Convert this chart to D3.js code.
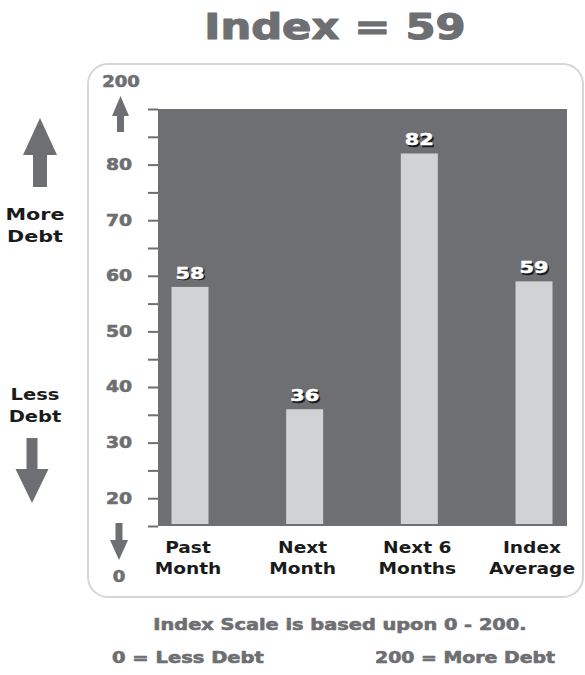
<!DOCTYPE html>
<html>
<head>
<meta charset="utf-8">
<script src="https://cdn.jsdelivr.net/npm/d3@7"></script>
<style>
  html, body { margin: 0; padding: 0; background: #ffffff; }
  svg { display: block; }
  text { font-family: "DejaVu Sans", "Liberation Sans", sans-serif; font-weight: bold; }
</style>
</head>
<body>
<svg id="chart" width="585" height="675"></svg>
<script>
// Debt index readings
const categories = ["Past Month", "Next Month", "Next 6 Months", "Index Average"];
const categoryLines = [["Past", "Month"], ["Next", "Month"], ["Next 6", "Months"], ["Index", "Average"]];
const values = [58, 36, 82, 59];

// Axis: labelled ticks every 10, minor ticks every 5, open ends at 0 and 200
const yDomain = [15, 90];
const majorTicks = [20, 30, 40, 50, 60, 70, 80];
const minorTicks = [15, 25, 35, 45, 55, 65, 75, 85, 90];
const topEndLabel = "200";
const bottomEndLabel = "0";

const titleText = "Index = 59";
const scaleNote = "Index Scale is based upon 0 - 200.";
const lowLegend = "0 = Less Debt";
const highLegend = "200 = More Debt";
const moreLabel = ["More", "Debt"];
const lessLabel = ["Less", "Debt"];

const GRAY = "#6e6f72";
const BAR = "#d1d2d4";
const FRAME = "#d6d6d6";
const INK = "#1b1b1b";

const svg = d3.select("#chart");

const plot = { left: 158, right: 567, top: 109, bottom: 526 };

const y = d3.scaleLinear().domain(yDomain).range([plot.bottom, plot.top]);
const x = d3.scalePoint().domain(categories).range([190, 534]);
const barW = 37;

// Widen glyphs horizontally to get a heavy, extended display face
function widen(sel, factor, weight) {
  sel.each(function () {
    const w = this.getComputedTextLength();
    d3.select(this)
      .attr("textLength", w * factor)
      .attr("lengthAdjust", "spacingAndGlyphs");
  });
  const fill = sel.attr("fill");
  sel.attr("stroke", fill).attr("stroke-width", weight == null ? 0.6 : weight)
     .attr("stroke-linejoin", "round");
  return sel;
}

// Title
widen(svg.append("text")
  .attr("x", 335).attr("y", 39)
  .attr("text-anchor", "middle")
  .attr("font-size", 36)
  .attr("fill", GRAY)
  .text(titleText), 1.2, 1.2);

// Rounded frame
svg.append("rect")
  .attr("x", 88).attr("y", 64)
  .attr("width", 495).attr("height", 533)
  .attr("rx", 20).attr("ry", 20)
  .attr("fill", "none")
  .attr("stroke", FRAME)
  .attr("stroke-width", 2);

// Plot background
svg.append("rect")
  .attr("x", plot.left).attr("y", plot.top)
  .attr("width", plot.right - plot.left)
  .attr("height", plot.bottom - plot.top)
  .attr("fill", GRAY);

// Y axis with major and minor ticks
const axis = svg.append("g")
  .attr("transform", `translate(${plot.left},0)`)
  .call(d3.axisLeft(y)
    .tickValues(majorTicks.concat(minorTicks).sort((a, b) => a - b))
    .tickSize(10)
    .tickPadding(16)
    .tickFormat(d => majorTicks.includes(d) ? String(d) : ""));
axis.select(".domain").remove();
axis.selectAll(".tick line").attr("stroke", GRAY).attr("stroke-width", 2);
const tickText = axis.selectAll(".tick text")
  .filter(d => majorTicks.includes(d))
  .attr("fill", GRAY)
  .attr("font-size", 15)
  .attr("font-family", "DejaVu Sans, sans-serif")
  .attr("font-weight", "bold");
widen(tickText, 1.25);

// Bars
svg.append("g").selectAll("rect")
  .data(values)
  .join("rect")
  .attr("x", (d, i) => x(categories[i]) - barW / 2)
  .attr("y", d => y(d))
  .attr("width", barW)
  .attr("height", d => y(yDomain[0]) - 2 - y(d))
  .attr("fill", BAR);

// Value labels with drop shadow
const vl = svg.append("g");
values.forEach((d, i) => {
  const cx = x(categories[i]);
  const ty = y(d) - 8;
  widen(vl.append("text")
    .attr("x", cx + 1.5).attr("y", ty + 1.5)
    .attr("text-anchor", "middle").attr("font-size", 16)
    .attr("fill", "#1a1a1a").text(d), 1.3, 0.5);
  widen(vl.append("text")
    .attr("x", cx).attr("y", ty)
    .attr("text-anchor", "middle").attr("font-size", 16)
    .attr("fill", "#ffffff").text(d), 1.3, 0.5);
});

// Category labels
const cl = svg.append("g");
categoryLines.forEach((lines, i) => {
  const t = cl.append("text")
    .attr("text-anchor", "middle")
    .attr("font-size", 15)
    .attr("fill", INK);
  lines.forEach((ln, j) => {
    t.append("tspan")
      .attr("x", x(categories[i]) - 2)
      .attr("y", 553 + j * 21)
      .text(ln);
  });
  widen(t.selectAll("tspan"), 1.24, 0);
  t.attr("stroke", INK).attr("stroke-width", 0.8);
});

// Arrow helper: tip at (cx, tipY); dir = -1 points up, +1 points down
function arrow(cx, tipY, len, headLen, headW, shaftW, dir) {
  const baseY = tipY - dir * headLen;
  const endY = tipY - dir * len;
  const pts = [
    [cx, tipY],
    [cx + headW / 2, baseY],
    [cx + shaftW / 2, baseY],
    [cx + shaftW / 2, endY],
    [cx - shaftW / 2, endY],
    [cx - shaftW / 2, baseY],
    [cx - headW / 2, baseY]
  ];
  svg.append("path")
    .attr("d", d3.line()(pts) + "Z")
    .attr("fill", GRAY);
}

// Axis end markers
widen(svg.append("text")
  .attr("x", 121).attr("y", 87)
  .attr("text-anchor", "middle").attr("font-size", 15)
  .attr("fill", GRAY).text(topEndLabel), 1.2);
arrow(120.5, 96, 36, 20, 17, 7, -1);

arrow(119, 560, 37, 20, 18, 7, 1);
widen(svg.append("text")
  .attr("x", 119).attr("y", 582)
  .attr("text-anchor", "middle").attr("font-size", 15)
  .attr("fill", GRAY).text(bottomEndLabel), 1.2);

// Side direction markers
arrow(40, 118, 69, 37, 34, 14, -1);
const more = svg.append("text").attr("text-anchor", "middle").attr("font-size", 15).attr("fill", INK);
moreLabel.forEach((ln, j) => more.append("tspan").attr("x", 35).attr("y", 220 + j * 22).text(ln));
widen(more.selectAll("tspan"), 1.38, 0);
more.attr("stroke", INK).attr("stroke-width", 0.8);

const less = svg.append("text").attr("text-anchor", "middle").attr("font-size", 15).attr("fill", INK);
lessLabel.forEach((ln, j) => less.append("tspan").attr("x", 35).attr("y", 400 + j * 22).text(ln));
widen(less.selectAll("tspan"), 1.3, 0);
less.attr("stroke", INK).attr("stroke-width", 0.8);
arrow(32, 503, 65, 34, 33, 11, 1);

// Footnotes
widen(svg.append("text")
  .attr("x", 340).attr("y", 630)
  .attr("text-anchor", "middle").attr("font-size", 15)
  .attr("fill", GRAY).text(scaleNote), 1.29);
widen(svg.append("text")
  .attr("x", 112).attr("y", 663)
  .attr("font-size", 15)
  .attr("fill", GRAY).text(lowLegend), 1.3);
widen(svg.append("text")
  .attr("x", 375).attr("y", 663)
  .attr("font-size", 15)
  .attr("fill", GRAY).text(highLegend), 1.26);
</script>
</body>
</html>
